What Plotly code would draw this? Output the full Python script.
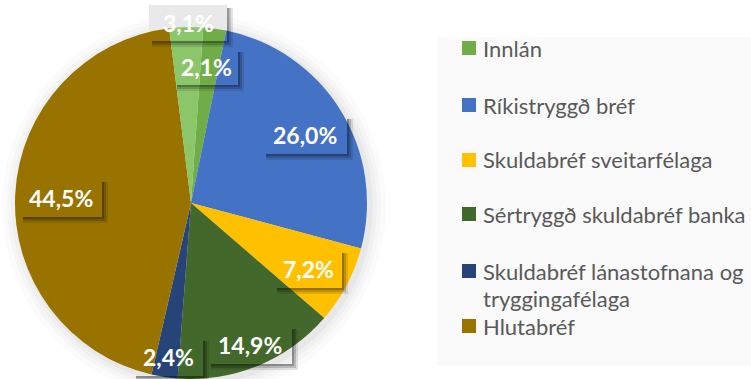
import plotly.graph_objects as go

W, H = 751, 379

# Portfolio composition (share, %), clockwise from the top
categories = [
    "Innlán",
    "Ríkistryggð bréf",
    "Skuldabréf sveitarfélaga",
    "Sértryggð skuldabréf banka",
    "Skuldabréf lánastofnana og tryggingafélaga",
    "Hlutabréf",
    "Annað",
]
shares = [2.1, 26.0, 7.2, 14.9, 2.4, 44.5, 3.1]
colors = ["#70AD47", "#4472C4", "#FFC000", "#43682B", "#264478", "#997300", "#8CC66A"]

# Legend rows (the last slice has no legend entry); long names wrap onto two lines
legend_lines = [
    ["Innlán"],
    ["Ríkistryggð bréf"],
    ["Skuldabréf sveitarfélaga"],
    ["Sértryggð skuldabréf banka"],
    ["Skuldabréf lánastofnana og", "tryggingafélaga"],
    ["Hlutabréf"],
]
legend_colors = colors[:6]


def px(x):
    return x / W


def py(y):
    return 1 - y / H


# pie geometry in pixels
CX, CY, R = 191, 203, 176

fig = go.Figure()
fig.add_trace(go.Pie(
    labels=categories,
    values=shares,
    marker=dict(colors=colors, line=dict(width=0)),
    sort=False,
    direction="clockwise",
    rotation=4,
    textinfo="none",
    hoverinfo="label+value",
    showlegend=False,
    domain=dict(x=[px(CX - R), px(CX + R)], y=[py(CY + R), py(CY - R)]),
))

shapes = []
# soft glow around the pie
for d, op in [(16, 0.015), (11, 0.02), (7, 0.025), (3, 0.03)]:
    shapes.append(dict(
        type="circle", xref="paper", yref="paper", layer="below",
        x0=px(CX - R - d + 3), x1=px(CX + R + d + 3),
        y0=py(CY + R + d + 3), y1=py(CY - R - d + 3),
        fillcolor=f"rgba(0,0,0,{op})", line=dict(width=0),
    ))

# legend panel
shapes.append(dict(
    type="rect", xref="paper", yref="paper", layer="below",
    x0=px(437), x1=px(751), y0=py(366), y1=py(37),
    fillcolor="#FAFAFA", line=dict(width=0),
))

annotations = []
legend_rows = [48, 105, 160, 214, 271, 326]
LINE_STEP = 27
legend_font = dict(family="Lato, Carlito, sans-serif", size=22, color="#595959")
for lines, col, yc in zip(legend_lines, legend_colors, legend_rows):
    shapes.append(dict(
        type="rect", xref="paper", yref="paper", layer="above",
        x0=px(462), x1=px(476), y0=py(yc + 7), y1=py(yc - 7),
        fillcolor=col, line=dict(width=0),
    ))
    for k, line in enumerate(lines):
        annotations.append(dict(
            x=px(481), y=py(yc + k * LINE_STEP),
            xref="paper", yref="paper",
            xanchor="left", yanchor="middle",
            align="left", showarrow=False, text=line,
            font=legend_font,
        ))

# data label boxes: (text centre x, y, box width, box height) in pixels
label_boxes = [
    (206, 67, 64, 36),
    (305, 135, 84, 38),
    (308, 269, 68, 38),
    (250, 345, 84, 38),
    (168, 357, 70, 38),
    (61, 198, 82, 38),
    (188, 23, 78, 36),
]
for i, (v, (tx, ty, bw, bh)) in enumerate(zip(shares, label_boxes)):
    x0, x1 = tx - bw / 2, tx + bw / 2
    y0, y1 = ty - bh / 2, ty + bh / 2
    if i == len(shares) - 1:
        # the top label sits partly off the pie: light box behind the slice
        shapes.append(dict(
            type="rect", xref="paper", yref="paper", layer="below",
            x0=px(x0), x1=px(x1), y0=py(y1), y1=py(y0),
            fillcolor="#E9E9E9", line=dict(width=0),
        ))
    # drop shadow along the bottom and right edges
    for off, op in [(6, 0.10), (4, 0.16), (2, 0.22)]:
        shapes.append(dict(
            type="rect", xref="paper", yref="paper", layer="above",
            x0=px(x0 + 3), x1=px(x1 + off), y0=py(y1 + off), y1=py(y1),
            fillcolor=f"rgba(0,0,0,{op})", line=dict(width=0),
        ))
        shapes.append(dict(
            type="rect", xref="paper", yref="paper", layer="above",
            x0=px(x1), x1=px(x1 + off), y0=py(y1), y1=py(y0 + 3),
            fillcolor=f"rgba(0,0,0,{op})", line=dict(width=0),
        ))
    annotations.append(dict(
        x=px(tx), y=py(ty), xref="paper", yref="paper",
        xanchor="center", yanchor="middle", showarrow=False,
        text=f"<b>{v:.1f}%</b>".replace(".", ","),
        font=dict(family="Lato, Carlito, sans-serif", size=23, color="white"),
    ))

fig.update_layout(
    width=W, height=H,
    margin=dict(l=0, r=0, t=0, b=0),
    paper_bgcolor="white",
    plot_bgcolor="white",
    separators=",.",
    shapes=shapes,
    annotations=annotations,
)

fig.write_html("out.html")
